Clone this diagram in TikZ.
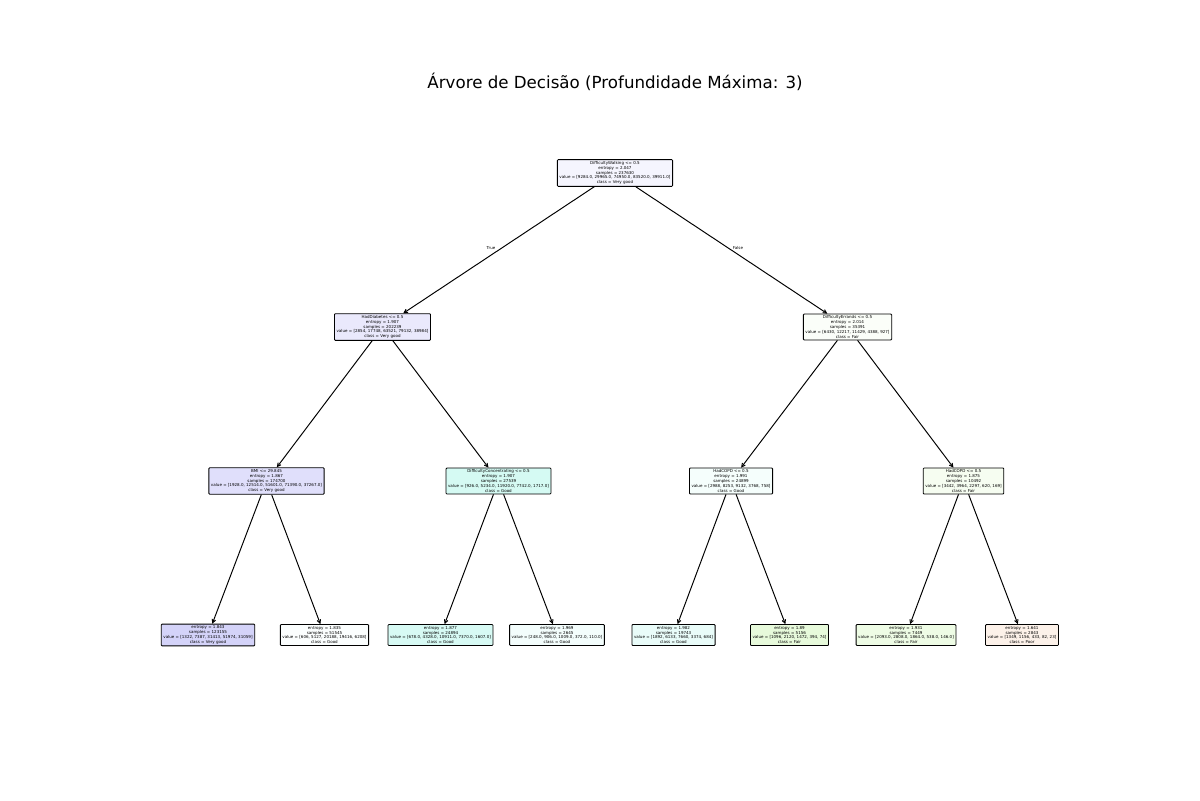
\documentclass[tikz,border=0pt]{standalone}
\usepackage{fontspec}
\setmainfont{DejaVu Sans}
\usetikzlibrary{arrows.meta}
\definecolor{cPoor}{RGB}{229,129,57}
\definecolor{cFair}{RGB}{123,229,57}
\definecolor{cGood}{RGB}{57,229,198}
\definecolor{cVG}{RGB}{60,57,229}
\tikzset{
  tnode/.style={draw=black, line width=0.6pt, rounded corners=0.6pt, align=center,
    font=\fontsize{2.9}{3.5}\selectfont, inner xsep=1.5pt, inner ysep=1.2pt},
  edge/.style={line width=0.7pt, -{Straight Barb[length=2.5pt,width=2.6pt]}},
  elabel/.style={font=\fontsize{2.9}{3.5}\selectfont, inner sep=0pt},
  title/.style={font=\fontsize{12}{14}\selectfont, inner sep=0pt}
}
\begin{document}
\begin{tikzpicture}[x=0.72pt,y=-0.72pt]
\useasboundingbox (0,0) rectangle (1200,800);
\node[title] (t) at (615,82) {Árvore de Decisão (Profundidade Máxima: 3)};

\node[tnode, fill=cVG!5] (r) at (615,173) {DifficultyWalking <= 0.5\\entropy = 2.047\\samples = 237630\\value = [9284.0, 29965.0, 74950.0, 83520.0, 39911.0]\\class = Very good};

\node[tnode, fill=cVG!11] (a) at (382.5,327) {HadDiabetes <= 0.5\\entropy = 1.907\\samples = 202239\\value = [2854, 17748, 63521, 79132, 38984]\\class = Very good};
\node[tnode, fill=cFair!3] (b) at (847.5,327) {DifficultyErrands <= 0.5\\entropy = 2.014\\samples = 35391\\value = [6430, 12217, 11429, 4388, 927]\\class = Fair};

\node[tnode, fill=cVG!16] (aa) at (266.5,481) {BMI <= 29.845\\entropy = 1.867\\samples = 174700\\value = [1928.0, 12514.0, 51601.0, 71390.0, 37267.0]\\class = Very good};
\node[tnode, fill=cGood!21] (ab) at (498.5,481) {DifficultyConcentrating <= 0.5\\entropy = 1.907\\samples = 27539\\value = [926.0, 5234.0, 11920.0, 7742.0, 1717.0]\\class = Good};
\node[tnode, fill=cGood!5] (ba) at (731,481) {HadCOPD <= 0.5\\entropy = 1.991\\samples = 24899\\value = [2988, 8253, 9132, 3768, 758]\\class = Good};
\node[tnode, fill=cFair!7] (bb) at (963.5,481) {HadCOPD <= 0.5\\entropy = 1.875\\samples = 10492\\value = [3442, 3964, 2297, 620, 169]\\class = Fair};

\node[tnode, fill=cVG!22] (l1) at (208,635) {entropy = 1.843\\samples = 123155\\value = [1322, 7387, 31413, 51974, 31059]\\class = Very good};
\node[tnode, fill=cGood!2] (l2) at (324.5,635) {entropy = 1.835\\samples = 51545\\value = [606, 5127, 20188, 19416, 6208]\\class = Good};
\node[tnode, fill=cGood!20] (l3) at (440.5,635) {entropy = 1.877\\samples = 24894\\value = [678.0, 4328.0, 10911.0, 7370.0, 1607.0]\\class = Good};
\node[tnode, fill=cGood!6] (l4) at (557,635) {entropy = 1.969\\samples = 2645\\value = [248.0, 906.0, 1009.0, 372.0, 110.0]\\class = Good};
\node[tnode, fill=cGood!11] (l5) at (673.5,635) {entropy = 1.982\\samples = 19743\\value = [1892, 6133, 7660, 3374, 684]\\class = Good};
\node[tnode, fill=cFair!18] (l6) at (789.5,635) {entropy = 1.89\\samples = 5156\\value = [1096, 2120, 1472, 394, 74]\\class = Fair};
\node[tnode, fill=cFair!13] (l7) at (906,635) {entropy = 1.931\\samples = 7449\\value = [2093.0, 2808.0, 1864.0, 538.0, 146.0]\\class = Fair};
\node[tnode, fill=cPoor!11] (l8) at (1022,635) {entropy = 1.641\\samples = 2843\\value = [1349, 1156, 433, 82, 23]\\class = Poor};

\draw[edge] (r) -- (a);
\draw[edge] (r) -- (b);
\draw[edge] (a) -- (aa);
\draw[edge] (a) -- (ab);
\draw[edge] (b) -- (ba);
\draw[edge] (b) -- (bb);
\draw[edge] (aa) -- (l1);
\draw[edge] (aa) -- (l2);
\draw[edge] (ab) -- (l3);
\draw[edge] (ab) -- (l4);
\draw[edge] (ba) -- (l5);
\draw[edge] (ba) -- (l6);
\draw[edge] (bb) -- (l7);
\draw[edge] (bb) -- (l8);

\node[elabel] (tl) at (491,248) {True};
\node[elabel] (fl) at (738,248) {False};
\end{tikzpicture}
\end{document}
